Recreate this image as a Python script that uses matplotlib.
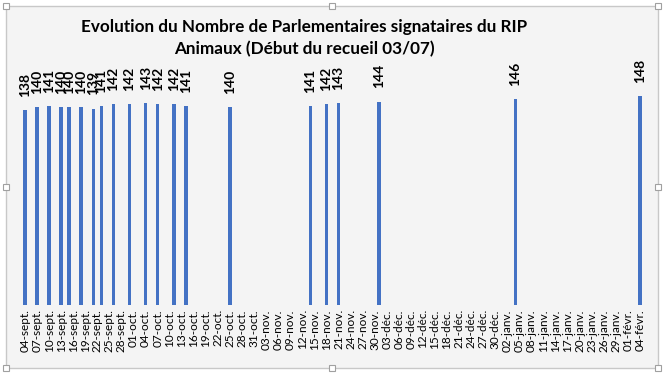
import matplotlib.pyplot as plt
import matplotlib.patches as patches
import pandas as pd

dates = ["2020-09-04", "2020-09-07", "2020-09-10", "2020-09-13", "2020-09-15",
         "2020-09-18", "2020-09-21", "2020-09-23", "2020-09-26", "2020-09-30",
         "2020-10-04", "2020-10-07", "2020-10-11", "2020-10-14", "2020-10-25",
         "2020-11-14", "2020-11-18", "2020-11-21", "2020-12-01", "2021-01-04",
         "2021-02-04"]
values = [138, 140, 141, 140, 140, 140, 139, 141, 142, 142, 143, 142, 142, 141,
          140, 141, 142, 143, 144, 146, 148]
mois = {9: "sept.", 10: "oct.", 11: "nov.", 12: "déc.", 1: "janv.", 2: "févr."}

plt.rcParams["font.family"] = ["Lato", "DejaVu Sans"]

dt = pd.to_datetime(dates)
start = pd.Timestamp("2020-09-04")
days = [(d - start).days for d in dt]
ticks = pd.date_range("2020-09-04", "2021-02-04", freq="3D")
tick_pos = [(t - start).days for t in ticks]
tick_labels = [f"{t.day:02d}-{mois[t.month]}" for t in ticks]

fig = plt.figure(figsize=(6.65, 3.74), dpi=100)
fig.patch.set_facecolor("white")

# background + selection frame
bg = patches.Rectangle((6 / 665, 6 / 374), 652 / 665, 362 / 374, transform=fig.transFigure,
                       facecolor="#f4f4f4", edgecolor="#c8c8c8", linewidth=1, zorder=-10)
fig.patches.append(bg)
for hx, hy in [(6, 6), (332, 6), (658, 6), (6, 368), (332, 368), (658, 368), (6, 187), (658, 187)]:
    fig.patches.append(patches.Rectangle(((hx - 3) / 665, (hy - 3) / 374), 6 / 665, 6 / 374,
                                         transform=fig.transFigure, facecolor="white",
                                         edgecolor="#a0a0a0", linewidth=0.8))

ax = fig.add_axes([18 / 665, 69 / 374, 630 / 665, 226 / 374])
ax.set_facecolor("none")
ax.bar(days, values, width=0.9, color="#4472C4")
for d, v in zip(days, values):
    ax.annotate(str(v), (d, v), xytext=(0, 9.5), textcoords="offset points",
                rotation=90, ha="center", va="bottom", fontsize=10,
                fontweight="bold", color="black")

ax.set_xlim(-1.75, 155)
ax.set_ylim(0, 160)
ax.set_xticks(tick_pos)
ax.set_xticklabels(tick_labels, rotation=90, fontsize=8.5, color="black")
ax.tick_params(axis="x", length=0, pad=3)
ax.set_yticks([])
for s in ax.spines.values():
    s.set_visible(False)

fig.text(304 / 665, 1 - 27 / 374, "Evolution du Nombre de Parlementaires signataires du RIP",
         ha="center", va="center", fontsize=12.3, fontweight="bold")
fig.text(304 / 665, 1 - 49 / 374, "Animaux (Début du recueil 03/07)",
         ha="center", va="center", fontsize=12.3, fontweight="bold")

fig.savefig("out.png", dpi=100)
